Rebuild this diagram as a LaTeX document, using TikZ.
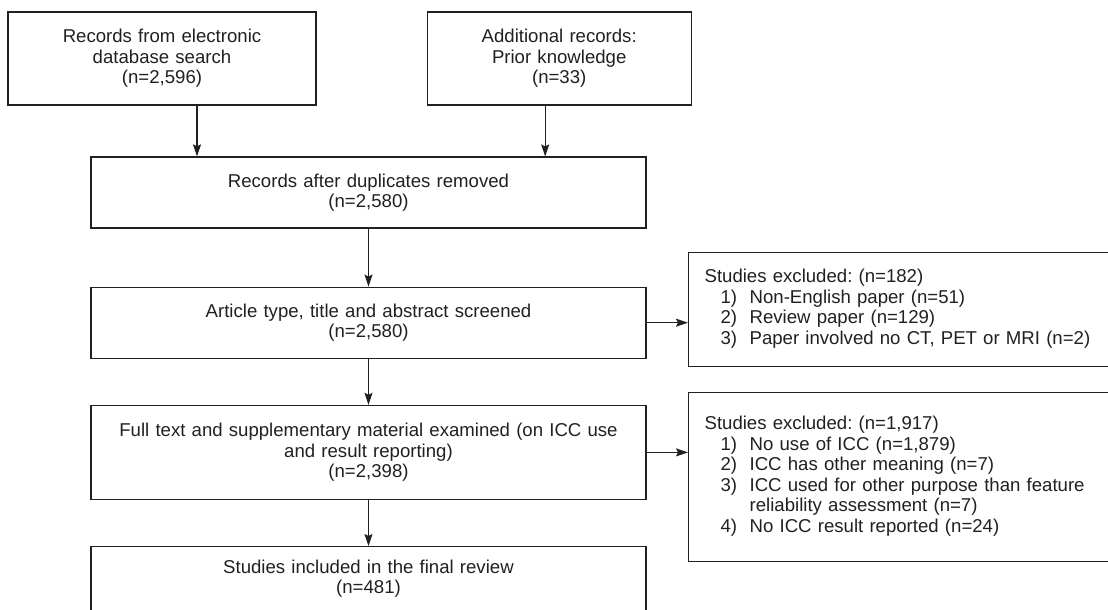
\documentclass[tikz,border=0pt]{standalone}
\usepackage{fontspec}
\setmainfont{Liberation Sans}
\usetikzlibrary{arrows.meta,positioning}
\definecolor{cInk}{HTML}{231F20}
\tikzset{
  >={Stealth[length=12pt,width=8pt,inset=2pt]},
  box/.style ={draw=cInk,line width=1.2pt,align=center,inner sep=0pt,
               font=\fontsize{18.6}{20.5}\selectfont,text=cInk},
  xbox/.style={box,align=left,anchor=north west,inner xsep=16pt,
               text width=400pt},
  ar/.style  ={->,line width=1.2pt,cInk},
}
\frenchspacing

\begin{document}
\begin{tikzpicture}[x=1pt,y=-1pt]
\useasboundingbox (0,0) rectangle (1108,610);
% sources
\node[box,text width=308pt,minimum height=93pt] (a) at (162,58.5)
  {Records from electronic\\ database search\\ (n=2,596)};
\node[box,text width=264pt,minimum height=93pt,right=110pt of a] (b)
  {Additional records:\\ Prior knowledge\\ (n=33)};
% main column
\node[box,text width=555pt,minimum height=71pt] (c) at (368.5,192.5)
  {Records after duplicates removed\\ (n=2,580)};
\node[box,text width=555pt,minimum height=71pt,below=58pt of c] (d)
  {Article type, title and abstract screened\\ (n=2,580)};
\node[box,text width=555pt,minimum height=94pt,below=46pt of d] (e)
  {Full text and supplementary material examined (on ICC use\\
   and result reporting)\\ (n=2,398)};
\node[box,text width=555pt,minimum height=64pt,below=46pt of e] (f)
  {Studies included in the final review\\ (n=481)};
% exclusions
\node[xbox,minimum height=114pt] (x1) at (688,252)
  {\begin{tabular}{@{\hspace{16pt}}l@{\hspace{12.5pt}}l@{}}
   \multicolumn{2}{@{}l@{}}{Studies excluded: (n=182)}\\
   1) & Non-English paper (n=51)\\
   2) & Review paper (n=129)\\
   3) & Paper involved no CT, PET or MRI (n=2)
   \end{tabular}};
\node[xbox,minimum height=169pt] (x2) at (688,392)
  {\begin{tabular}{@{\hspace{16pt}}l@{\hspace{12.5pt}}l@{}}
   \multicolumn{2}{@{}l@{}}{Studies excluded: (n=1,917)}\\
   1) & No use of ICC (n=1,879)\\
   2) & ICC has other meaning (n=7)\\
   3) & ICC used for other purpose than feature\\
      & reliability assessment (n=7)\\
   4) & No ICC result reported (n=24)
   \end{tabular}};
\draw[ar] ([xshift=35pt]a.south) -- ([xshift=35pt]a.south |- c.north);
\draw[ar] ([xshift=-14pt]b.south) -- ([xshift=-14pt]b.south |- c.north);
\draw[ar] (c) -- (d);
\draw[ar] (d) -- (e);
\draw[ar] (e) -- (f);
\draw[ar] (d.east) -- (d.east -| x1.west);
\draw[ar] (e.east) -- (e.east -| x2.west);
\end{tikzpicture}
\end{document}
